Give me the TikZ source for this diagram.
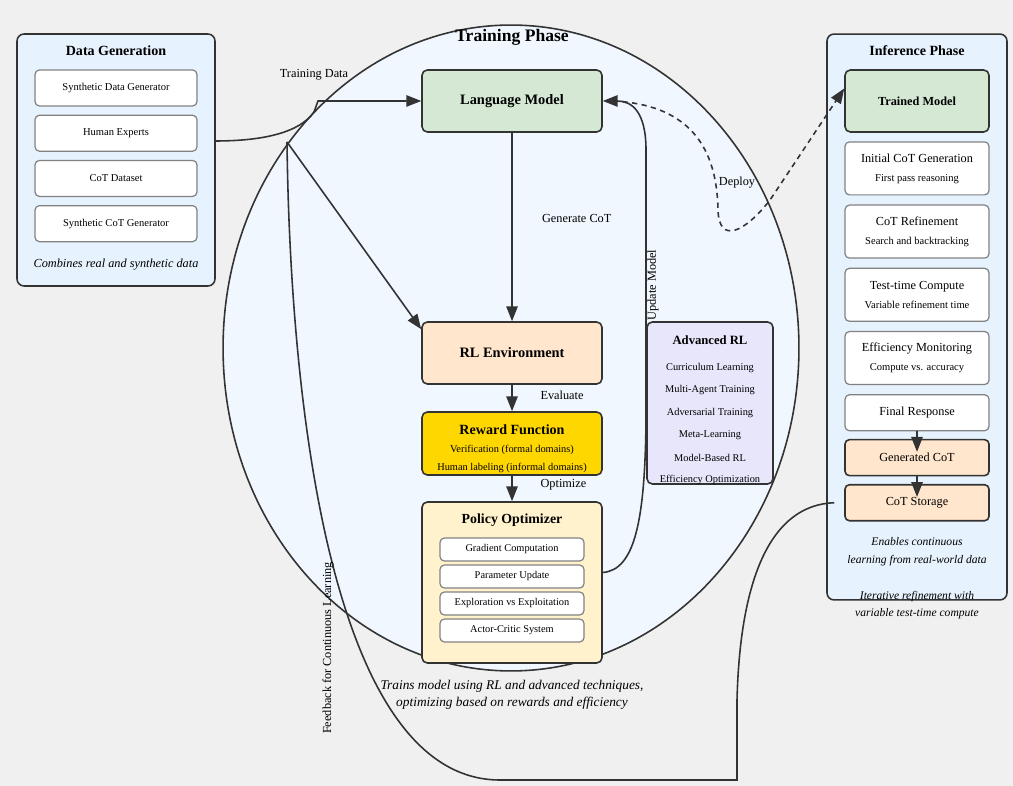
\documentclass[tikz,border=0pt]{standalone}
\usepackage{fontspec}
\setmainfont{Liberation Serif}
\usetikzlibrary{arrows.meta, positioning, shapes.geometric}

\definecolor{bggray}{RGB}{240,240,240}
\definecolor{clusterblue}{RGB}{230,242,253}
\definecolor{phaseblue}{RGB}{240,247,254}
\definecolor{lmgreen}{RGB}{213,232,212}
\definecolor{envpeach}{RGB}{255,230,204}
\definecolor{rewardgold}{RGB}{255,215,0}
\definecolor{policycream}{RGB}{255,242,204}
\definecolor{advlilac}{RGB}{232,230,250}
\definecolor{edgegray}{RGB}{51,51,51}
\definecolor{itemgray}{RGB}{130,130,130}

\newcommand{\fsz}[2]{\fontsize{#1}{#2}\selectfont}

\begin{document}
\begin{tikzpicture}[
    x=0.02cm, y=-0.02cm,
    box/.style={draw=edgegray, line width=0.9pt, rounded corners=3pt, minimum width=3.6cm, minimum height=1.24cm, align=center, inner sep=0pt},
    cluster/.style={draw=edgegray, line width=0.9pt, rounded corners=4pt, fill=clusterblue, inner sep=0pt},
    dgitem/.style={draw=itemgray, line width=0.7pt, rounded corners=2.5pt, fill=white, minimum width=3.24cm, minimum height=0.72cm, inner sep=0pt, font=\fsz{6}{7}},
    infitem/.style={draw=itemgray, line width=0.7pt, rounded corners=2.5pt, fill=white, minimum width=2.88cm, minimum height=1.06cm, inner sep=0pt, align=center, font=\fsz{6}{10.8}},
    infbox/.style={draw=edgegray, line width=0.9pt, rounded corners=2.5pt, minimum width=2.88cm, minimum height=0.72cm, inner sep=0pt, font=\fsz{7}{8}},
    politem/.style={draw=itemgray, line width=0.7pt, rounded corners=2.5pt, fill=white, minimum width=2.88cm, minimum height=0.46cm, inner sep=0pt, font=\fsz{5.9}{7}},
    advtext/.style={font=\fsz{5.9}{7}, inner sep=0pt},
    grouptitle/.style={font=\bfseries\fsz{8}{10}},
    note/.style={font=\itshape\fsz{7}{9}, align=center},
    lbl/.style={font=\fsz{7}{8}, inner sep=1pt},
    arrow/.style={-{Triangle[length=8.5pt,width=6.5pt]}, line width=0.9pt, draw=edgegray},
    link/.style={line width=0.9pt, draw=edgegray}
]

\fill[bggray] (0,0) rectangle (1013,786);
\useasboundingbox (0,0) rectangle (1013,786);

% Training Phase
\node[ellipse, draw=edgegray, line width=0.9pt, fill=phaseblue, minimum width=11.52cm, minimum height=12.92cm, inner sep=0pt] (train) at (511,348) {};
\node[font=\bfseries\fsz{10}{12}] (traintitle) at (512,37) {Training Phase};

\node[box, fill=lmgreen, font=\bfseries\fsz{8.2}{10}] (lm) at (512,101) {Language Model};
\node[box, fill=envpeach, font=\bfseries\fsz{8.2}{10}] (env) at (512,353) {RL Environment};
\node[box, fill=rewardgold, minimum height=1.26cm] (reward) at (512,443.5) {};
\node[align=center, inner sep=0pt, font=\fsz{5.9}{10.2}] (rewardtext) at (512,449) {{\bfseries\fsz{8}{10.2}Reward Function}\\Verification (formal domains)\\Human labeling (informal domains)};

\node[box, fill=policycream, minimum height=3.22cm] (pol) at (512,582.5) {};
\node[font=\bfseries\fsz{7.9}{10}] (poltitle) at (512,520) {Policy Optimizer};
\foreach \name/\txt [count=\i] in {grad/Gradient Computation, param/Parameter Update, explore/Exploration vs Exploitation, actor/Actor-Critic System}
  \node[politem] (\name) at (512,522.5+27*\i) {\txt};

\node[box, fill=advlilac, minimum width=2.52cm, minimum height=3.24cm] (adv) at (710,403) {};
\node[font=\bfseries\fsz{7.2}{9}] (advtitle) at (710,340) {Advanced RL};
\foreach \txt [count=\i] in {Curriculum Learning, Multi-Agent Training, Adversarial Training, Meta-Learning, Model-Based RL, Efficiency Optimization}
  \node[advtext] (adv\i) at (710,345.6+22.4*\i) {\txt};

\node[note, font=\itshape\fsz{7.6}{9.6}] (trainnote) at (512,695) {Trains model using RL and advanced techniques,\\optimizing based on rewards and efficiency};

% Data Generation
\node[cluster, minimum width=3.96cm, minimum height=5.04cm] (datagen) at (116,160) {};
\node[grouptitle] (datagentitle) at (116,51) {Data Generation};
\node[dgitem] (synthdata) at (116,88) {Synthetic Data Generator};
\node[dgitem, below=0.16cm of synthdata] (humans) {Human Experts};
\node[dgitem, below=0.16cm of humans] (cotdata) {CoT Dataset};
\node[dgitem, below=0.16cm of cotdata] (synthcot) {Synthetic CoT Generator};
\node[note] (datagennote) at (116,265) {Combines real and synthetic data};

% Inference Phase
\node[cluster, minimum width=3.6cm, minimum height=11.32cm] (infer) at (917,317) {};
\node[grouptitle] (infertitle) at (917,51) {Inference Phase};
\node[box, fill=lmgreen, minimum width=2.88cm, font=\bfseries\fsz{7}{9}] (tm) at (917,101) {Trained Model};
\node[infitem, below=0.17cm of tm] (initcot) {{\fsz{7}{10.8}Initial CoT Generation}\\First pass reasoning};
\node[infitem, below=0.18cm of initcot] (refine) {{\fsz{7}{10.8}CoT Refinement}\\Search and backtracking};
\node[infitem, below=0.18cm of refine] (ttc) {{\fsz{7}{10.8}Test-time Compute}\\Variable refinement time};
\node[infitem, below=0.18cm of ttc] (effmon) {{\fsz{7}{10.8}Efficiency Monitoring}\\Compute vs. accuracy};
\node[infbox, draw=itemgray, line width=0.7pt, fill=white, below=0.18cm of effmon] (final) {Final Response};
\node[infbox, fill=envpeach, below=0.15cm of final] (gencot) {Generated CoT};
\node[infbox, fill=envpeach, below=0.15cm of gencot] (stor) {CoT Storage};
\node[note, font=\itshape\fsz{6.6}{10.2}] (infernote) at (917,552) {Enables continuous\\learning from real-world data};
\node[note, font=\itshape\fsz{6.6}{9.6}] (itnote) at (917,605.5) {Iterative refinement with\\variable test-time compute};

% Connectors
\coordinate (dgout) at (215,141);
\coordinate (split) at (287,142);
\draw[arrow] (dgout) .. controls (265,141) and (300,132) .. (314,112) -- (318,101) -- (lm.west);
\node[lbl] (tdlabel) at (314,75) {Training Data};
\draw[arrow] (split) -- ([yshift=-0.16cm]env.north west);

\draw[arrow] (lm) -- node[lbl, right=0.55cm, yshift=0.18cm] {Generate CoT} (env);
\draw[arrow] (env) -- node[lbl, right=0.52cm, yshift=0.06cm] {Evaluate} (reward);
\draw[arrow] (reward) -- node[lbl, right=0.52cm, yshift=0.08cm] {Optimize} (pol);

\draw[arrow] ([yshift=0.2cm]pol.east) .. controls (635,570) and (645,520) .. (646,420) -- (646,150) .. controls (646,112) and (632,101) .. (lm.east);
\node[lbl, rotate=90] (umlabel) at (653,285) {Update Model};

\draw[arrow, dash pattern=on 3pt off 2.5pt] ([xshift=0.2cm]lm.east) .. controls (700,105) and (717,160) .. (718,210) .. controls (719,245) and (745,232) .. (770,200) -- ([yshift=0.25cm]tm.west);
\node[lbl] (deploylabel) at (737,183) {Deploy};

\draw[arrow] (final.south) -- ([yshift=-0.26cm]gencot.north);
\draw[arrow] (gencot.south) -- ([yshift=-0.26cm]stor.north);

\draw[link] ([xshift=-0.2cm]stor.west) .. controls (770,505) and (740,580) .. (737,700) -- (737,780) -- (500,780) .. controls (330,780) and (290,400) .. (split);
\node[lbl, rotate=90] (fblabel) at (328,648) {Feedback for Continuous Learning};

\end{tikzpicture}
\end{document}
